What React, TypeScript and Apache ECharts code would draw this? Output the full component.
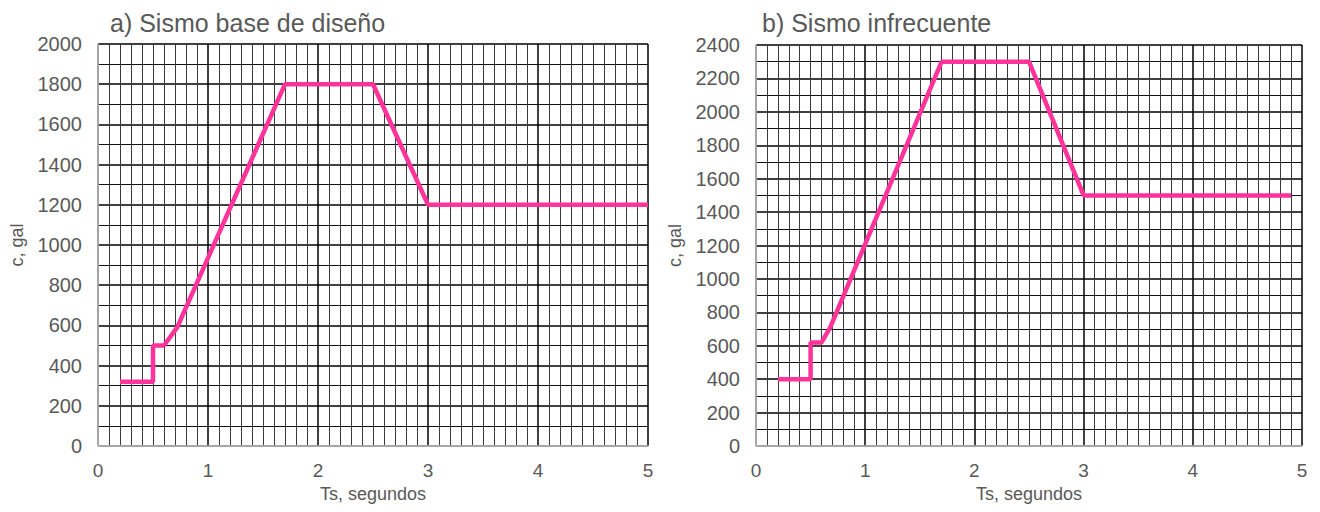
import React, { useEffect, useRef } from "react";
import * as echarts from "echarts";

const titleA = "a) Sismo base de diseño";
const titleB = "b) Sismo infrecuente";
const xName = "Ts, segundos";
const yName = "c, gal";

const seriesA: [number, number][] = [
  [0.2, 320], [0.5, 320], [0.5, 500], [0.6, 500], [0.72, 590],
  [1.7, 1800], [2.5, 1800], [3.0, 1200], [5.0, 1200],
];
const seriesB: [number, number][] = [
  [0.2, 400], [0.5, 400], [0.5, 620], [0.6, 620], [0.68, 710],
  [1.7, 2300], [2.5, 2300], [3.0, 1500], [4.9, 1500],
];
const yMaxA = 2000;
const yMaxB = 2400;

const FONT = "Liberation Sans, Arial, sans-serif";
const LABEL = "#595959";
const PINK = "#FF3399";

function xAxis(gridIndex: number) {
  return {
    type: "value",
    gridIndex,
    min: 0,
    max: 5,
    interval: 1,
    name: xName,
    nameLocation: "middle",
    nameGap: 35,
    nameTextStyle: { color: LABEL, fontSize: 18, fontFamily: FONT },
    axisLine: { show: true, lineStyle: { color: "#c8c8c8", width: 1.5 } },
    axisTick: { show: false },
    axisLabel: { color: LABEL, fontSize: 19, fontFamily: FONT, margin: 15 },
    splitLine: { show: true, lineStyle: { color: "#000", width: 1.5 } },
    minorTick: { show: false, splitNumber: 10 },
    minorSplitLine: { show: true, lineStyle: { color: "#3a3a3a", width: 1 } },
  };
}

function yAxis(gridIndex: number, max: number) {
  return {
    type: "value",
    gridIndex,
    min: 0,
    max,
    interval: 200,
    name: yName,
    nameLocation: "middle",
    nameGap: 72,
    nameTextStyle: { color: LABEL, fontSize: 18, fontFamily: FONT },
    axisLine: { show: true, lineStyle: { color: "#c8c8c8", width: 1.5 } },
    axisTick: { show: false },
    axisLabel: {
      color: LABEL, fontSize: 20, fontFamily: FONT, margin: 16,
      formatter: (v: number) => String(v),
    },
    splitLine: { show: true, lineStyle: { color: "#000", width: 1.5 } },
    minorTick: { show: false, splitNumber: 2 },
    minorSplitLine: { show: true, lineStyle: { color: "#111", width: 1 } },
  };
}

export default function App() {
  const ref = useRef<HTMLDivElement>(null);
  useEffect(() => {
    if (!ref.current) return;
    const chart = echarts.init(ref.current, null, { renderer: "svg" });
    chart.setOption({
      animation: false,
      backgroundColor: "#fff",
      title: [
        { text: titleA, left: 102, top: 2, padding: 0, textStyle: { color: LABEL, fontSize: 25, fontWeight: "normal", fontFamily: FONT } },
        { text: titleB, left: 754, top: 2, padding: 0, textStyle: { color: LABEL, fontSize: 25, fontWeight: "normal", fontFamily: FONT } },
      ],
      grid: [
        { left: 90, top: 36, width: 550, height: 402, outerBoundsMode: "none", containLabel: false },
        { left: 748, top: 37, width: 546, height: 401, outerBoundsMode: "none", containLabel: false },
      ],
      xAxis: [xAxis(0), xAxis(1)],
      yAxis: [yAxis(0, yMaxA), yAxis(1, yMaxB)],
      series: [
        {
          type: "line", xAxisIndex: 0, yAxisIndex: 0, data: seriesA, showSymbol: false,
          lineStyle: { color: PINK, width: 4.5 }, z: 5,
        },
        {
          type: "line", xAxisIndex: 1, yAxisIndex: 1, data: seriesB, showSymbol: false,
          lineStyle: { color: PINK, width: 4.5 }, z: 5,
        },
      ],
    });
    return () => chart.dispose();
  }, []);
  return <div ref={ref} style={{ width: 1304, height: 496, overflow: "hidden" }} />;
}
